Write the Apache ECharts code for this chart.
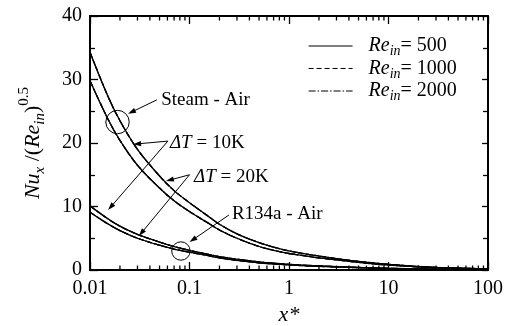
<!DOCTYPE html>
<html><head><meta charset="utf-8">
<script src="https://cdn.jsdelivr.net/npm/echarts@6/dist/echarts.min.js"></script>
<style>html,body{margin:0;padding:0;background:#fff}#c{width:511px;height:326px}</style>
</head><body><div id="c"></div>
<script>
// ---- data ----
const xValues   = [0.01,0.015,0.02,0.03,0.05,0.07,0.1,0.15,0.2,0.3,0.5,0.7,1,1.5,2,3,5,7,10,15,20,30,50,70,100];
const steamUpper = [34.3,27.5,23.5,19.0,14.8,12.5,10.6,8.6,7.2,5.7,4.3,3.6,3.0,2.5,2.2,1.8,1.35,1.12,0.9,0.68,0.55,0.42,0.3,0.24,0.2];
const steamLower = [29.8,23.9,20.4,16.5,12.9,10.9,9.2,7.5,6.3,5.0,3.7,3.1,2.6,2.2,1.9,1.6,1.2,0.97,0.78,0.6,0.48,0.37,0.26,0.21,0.17];
const r134aUpper = [10.1,8.1,6.9,5.6,4.4,3.7,3.1,2.5,2.1,1.7,1.27,1.06,0.89,0.74,0.65,0.53,0.4,0.33,0.27,0.2,0.16,0.12,0.09,0.07,0.06];
const r134aLower = [9.1,7.3,6.2,5.0,3.9,3.3,2.8,2.3,1.9,1.5,1.14,0.95,0.8,0.66,0.58,0.48,0.36,0.3,0.24,0.18,0.15,0.11,0.08,0.06,0.05];
const reNames = ['500','1000','2000'];
const xMinorTicks = [0.02,0.03,0.04,0.05,0.06,0.07,0.08,0.09,0.2,0.3,0.4,0.5,0.6,0.7,0.8,0.9,2,3,4,5,6,7,8,9,20,30,40,50,60,70,80,90];

const FONT = 'Liberation Serif';
const chart = echarts.init(document.getElementById('c'), null, {renderer:'canvas'});

const curves = [steamUpper, steamLower, r134aUpper, r134aLower];
const styles = {'500':'solid','1000':[5,3],'2000':[7,2,1.5,2]};
const series = [];
['2000','1000','500'].forEach(re => {
  curves.forEach(c => {
    series.push({
      type:'line', name:'Re'+re, xAxisIndex:0, yAxisIndex:0,
      data: xValues.map((x,i)=>[x,c[i]]),
      smooth:0.35, symbol:'none', showSymbol:false, silent:true,
      lineStyle:{color:'#000', width:1.3, type:styles[re]},
      itemStyle:{color:'#000'}
    });
  });
});

const tokens = {
  i:{fontFamily:FONT,fontStyle:'italic',fontSize:22,color:'#000'},
  n:{fontFamily:FONT,fontSize:22,color:'#000'},
  s:{fontFamily:FONT,fontStyle:'italic',fontSize:15,color:'#000',padding:[13,0,0,0]},
  p:{fontFamily:FONT,fontSize:15,color:'#000',padding:[0,0,18,0]}
};
const lgTokens = {
  f:{fontFamily:FONT,fontStyle:'italic',fontSize:20,color:'#000',padding:[0,0,0,11]},
  n:{fontFamily:FONT,fontSize:20,color:'#000'},
  s:{fontFamily:FONT,fontStyle:'italic',fontSize:14,color:'#000',padding:[11,0,0,0]}
};

const axisCommonX = {
  type:'log', logBase:10, min:0.01, max:100,
  axisLine:{show:true, onZero:false, lineStyle:{color:'#000', width:2}},
  axisTick:{show:true, inside:true, length:8, lineStyle:{color:'#000', width:1.3}},
  splitLine:{show:false}
};
const axisCommonY = {
  type:'value', min:0, max:40, interval:10,
  axisLine:{show:true, onZero:false, lineStyle:{color:'#000', width:2}},
  axisTick:{show:true, inside:true, length:8, lineStyle:{color:'#000', width:1.3}},
  minorTick:{show:true, splitNumber:2, length:5, lineStyle:{color:'#000', width:1.3}},
  splitLine:{show:false}, minorSplitLine:{show:false}
};

chart.setOption({
  animation:false,
  backgroundColor:'#fff',
  grid:{left:90, right:23, top:16, bottom:56, containLabel:false, outerBoundsMode:'none'},
  legend:{
    data:reNames.map(r=>'Re'+r), orient:'vertical', left:303, top:31,
    itemWidth:44, itemHeight:14, itemGap:0, selectedMode:false,
    formatter: name => `{f|Re}{s|in}{n|= ${name.slice(2)}}`,
    textStyle:{fontFamily:FONT, fontSize:20, color:'#000', rich:lgTokens},
    itemStyle:{opacity:0, borderWidth:0},
    lineStyle:{width:1.2}
  },
  xAxis:[
    Object.assign({}, axisCommonX, {position:'bottom',
      axisLabel:{show:true, margin:9, fontFamily:FONT, fontSize:20, color:'#000',
        formatter:v=>String(+(+v).toPrecision(6))},
      name:'{i|x*}', nameLocation:'middle', nameGap:29,
      nameTextStyle:{rich:tokens}}),
    Object.assign({}, axisCommonX, {position:'top', axisLabel:{show:false}})
  ],
  yAxis:[
    Object.assign({}, axisCommonY, {position:'left',
      axisLabel:{show:true, margin:8, fontFamily:FONT, fontSize:20, color:'#000'},
      name:'{i|Nu}{s|x}{n| /(}{i|Re}{s|in}{n|)}{p|0.5}', nameLocation:'middle', nameGap:40, nameRotate:90,
      nameTextStyle:{rich:tokens}}),
    Object.assign({}, axisCommonY, {position:'right', axisLabel:{show:false},
      axisTick:{show:true, inside:true, length:6, lineStyle:{color:'#000', width:1.3}},
      minorTick:{show:true, splitNumber:2, length:5, lineStyle:{color:'#000', width:1.3}}})
  ],
  series: series
});

// ---- minor ticks of the log axes and annotations (positioned through the axis scales) ----
const P = (x,y) => chart.convertToPixel({xAxisIndex:0, yAxisIndex:0}, [x,y]);
const g = [];
xMinorTicks.forEach(v=>{
  const b = P(v,0), t = P(v,40);
  g.push({type:'line', silent:true, shape:{x1:b[0],y1:b[1],x2:b[0],y2:b[1]-4.5}, style:{stroke:'#000', lineWidth:1.3}});
  g.push({type:'line', silent:true, shape:{x1:t[0],y1:t[1],x2:t[0],y2:t[1]+4.5}, style:{stroke:'#000', lineWidth:1.3}});
});

function arrow(a, b){
  const dx=b[0]-a[0], dy=b[1]-a[1], L=Math.hypot(dx,dy), ux=dx/L, uy=dy/L;
  const hl=8, hw=2.6;
  const base=[b[0]-ux*hl, b[1]-uy*hl];
  return [
    {type:'line', silent:true, shape:{x1:a[0],y1:a[1],x2:base[0]+ux,y2:base[1]+uy}, style:{stroke:'#000', lineWidth:1}},
    {type:'polygon', silent:true, shape:{points:[b,[base[0]-uy*hw, base[1]+ux*hw],[base[0]+uy*hw, base[1]-ux*hw]]}, style:{fill:'#000'}}
  ];
}
function circle(c, r){
  return {type:'circle', silent:true, shape:{cx:c[0], cy:c[1], r:r}, style:{fill:'none', stroke:'#000', lineWidth:1}};
}
function label(p, text, rich){
  return {type:'text', silent:true, x:p[0], y:p[1], style:{text:text, fontFamily:FONT, fontSize:19, fill:'#000', verticalAlign:'middle', align:'left', rich:rich}};
}
const annRich = {
  i:{fontFamily:FONT,fontStyle:'italic',fontSize:19,fill:'#000'},
  n:{fontFamily:FONT,fontSize:19,fill:'#000'}
};
// Steam - Air
g.push(circle(P(0.0189,23.3), 11.7));
g.push(...arrow(P(0.047,26.8), P(0.0241,24.6)));
g.push(label(P(0.052,26.8), 'Steam - Air'));
// dT = 10K
const j10 = P(0.0607,20.3);
g.push(...arrow(j10, P(0.0271,19.8)));
g.push(...arrow(j10, P(0.0152,9.45)));
g.push(label(P(0.0636,20.0), '{i|ΔT}{n| = 10K}', annRich));
// dT = 20K
const j20 = P(0.1,15.0);
g.push(...arrow(j20, P(0.058,14.0)));
g.push(...arrow(j20, P(0.031,5.35)));
g.push(label(P(0.111,14.6), '{i|ΔT}{n| = 20K}', annRich));
// R134a - Air
g.push(circle(P(0.082,2.99), 9.2));
g.push(...arrow(P(0.249,8.66), P(0.1,4.4)));
g.push(label(P(0.267,8.8), 'R134a - Air'));
chart.setOption({graphic:{elements:g}});
</script>
</body></html>
